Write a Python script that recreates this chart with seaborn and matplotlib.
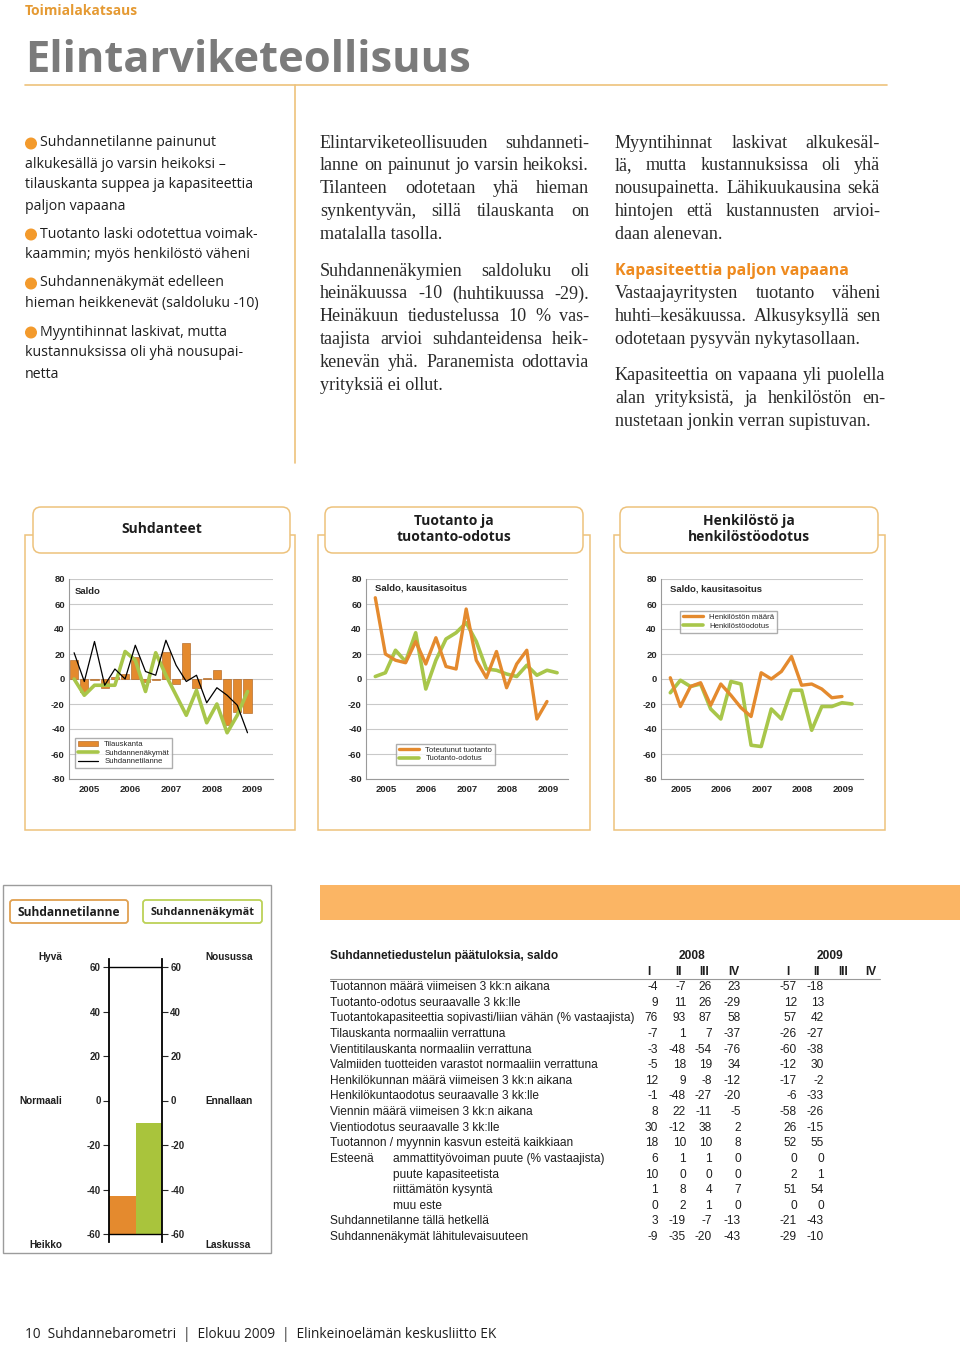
import matplotlib
matplotlib.use("Agg")
import matplotlib.pyplot as plt
from matplotlib.patches import FancyBboxPatch, Rectangle, Circle, Patch
from matplotlib.lines import Line2D
import seaborn as sns
import numpy as np

sns.set_style("white")
plt.rcParams['font.family'] = ['Liberation Sans', 'DejaVu Sans']

# ---------------- data ----------------
years = ["2005", "2006", "2007", "2008", "2009"]

# Chart 1: Suhdanteet (quarterly 2005Q1 - 2009Q2)
tilauskanta = [15, -10, -1, -7, 2, 4, 18, -2, -1, 22, -4, 29, -7, 1, 7, -37, -26, -27]
suhdannenakymat = [0, -13, -5, -5, -5, 22, 15, -10, 21, 3, -13, -29, -9, -35, -20, -43, -29, -10]
suhdannetilanne = [21, -2, 30, -5, 8, 0, 27, 6, 3, 31, 11, -2, 3, -19, -7, -13, -21, -43]

# Chart 2: Tuotanto ja tuotanto-odotus
toteutunut_tuotanto = [65, 20, 15, 13, 30, 12, 33, 10, 8, 56, 15, 1, 22, -7, 12, 23, -32, -18]
tuotanto_odotus = [2, 5, 23, 14, 37, -8, 15, 32, 37, 45, 30, 8, 7, 4, 2, 11, 3, 7, 5]

# Chart 3: Henkilöstö ja henkilöstöodotus
henkiloston_maara = [1, -22, -6, -3, -21, -4, -13, -23, -30, 5, 0, 6, 18, -5, -4, -8, -15, -14]
henkilostoodotus = [-11, -1, -6, -4, -24, -32, -2, -4, -53, -54, -24, -32, -9, -9, -41, -22, -22, -19, -20]

# Thermometer
thermo_labels = ["Suhdannetilanne", "Suhdannenäkymät"]
thermo_values = [-43, -10]

# Table
table_title = "Suhdannetiedustelun päätuloksia, saldo"
table_rows = [
    "Tuotannon määrä viimeisen 3 kk:n aikana",
    "Tuotanto-odotus seuraavalle 3 kk:lle",
    "Tuotantokapasiteettia sopivasti/liian vähän (% vastaajista)",
    "Tilauskanta normaaliin verrattuna",
    "Vientitilauskanta normaaliin verrattuna",
    "Valmiiden tuotteiden varastot normaaliin verrattuna",
    "Henkilökunnan määrä viimeisen 3 kk:n aikana",
    "Henkilökuntaodotus seuraavalle 3 kk:lle",
    "Viennin määrä viimeisen 3 kk:n aikana",
    "Vientiodotus seuraavalle 3 kk:lle",
    "Tuotannon / myynnin kasvun esteitä kaikkiaan",
    "ammattityövoiman puute (% vastaajista)",
    "puute kapasiteetista",
    "riittämätön kysyntä",
    "muu este",
    "Suhdannetilanne tällä hetkellä",
    "Suhdannenäkymät lähitulevaisuuteen",
]
q2008_1 = [-4, 9, 76, -7, -3, -5, 12, -1, 8, 30, 18, 6, 10, 1, 0, 3, -9]
q2008_2 = [-7, 11, 93, 1, -48, 18, 9, -48, 22, -12, 10, 1, 0, 8, 2, -19, -35]
q2008_3 = [26, 26, 87, 7, -54, 19, -8, -27, -11, 38, 10, 1, 0, 4, 1, -7, -20]
q2008_4 = [23, -29, 58, -37, -76, 34, -12, -20, -5, 2, 8, 0, 0, 7, 0, -13, -43]
q2009_1 = [-57, 12, 57, -26, -60, -12, -17, -6, -58, 26, 52, 0, 2, 51, 0, -21, -29]
q2009_2 = [-18, 13, 42, -27, -38, 30, -2, -33, -26, -15, 55, 0, 1, 54, 0, -43, -10]
quarters = ["I", "II", "III", "IV"]

# ---------------- styling ----------------
ORANGE = "#E48A2E"
GREEN = "#A8C64A"
LORANGE = "#EDC27C"
GRAYTXT = "#7B7B7B"
TXT = "#1E1E1E"

W, H = 960, 1347
fig = plt.figure(figsize=(W / 100, H / 100), dpi=100)
bg = fig.add_axes([0, 0, 1, 1])
bg.set_xlim(0, W)
bg.set_ylim(H, 0)
bg.axis("off")
bg.set_zorder(0)
R = fig.canvas.get_renderer()


def px_rect(x0, y0, x1, y1):
    return [x0 / W, 1 - y1 / H, (x1 - x0) / W, (y1 - y0) / H]


def t(x, y, s, **kw):
    kw.setdefault("va", "center")
    kw.setdefault("color", TXT)
    return bg.text(x, y, s, **kw)


def fit(art, width):
    w = art.get_window_extent(R).width
    art.set_fontsize(art.get_fontsize() * width / w)


def justify(x0, x1, y, s, **kw):
    words = s.split(" ")
    arts = [t(0, y, w, **kw) for w in words]
    widths = [a.get_window_extent(R).width for a in arts]
    gap = (x1 - x0 - sum(widths)) / max(len(words) - 1, 1)
    pos = x0
    for a, w in zip(arts, widths):
        a.set_x(pos)
        pos += w + gap


# ---------------- header ----------------
t(25, 11, "Toimialakatsaus", color="#E59A33", fontsize=10, fontweight="bold", family="Open Sans")
ti = t(25, 61, "Elintarviketeollisuus", color=GRAYTXT, fontsize=36, fontweight="bold", family="Open Sans")
fit(ti, 446)
bg.plot([25, 887], [85, 85], color=LORANGE, lw=1.2)
bg.plot([295, 295], [85, 463], color=LORANGE, lw=1.2)

# bullets
bullets = [
    [(40, 143, "Suhdannetilanne painunut"), (25, 164, "alkukesällä jo varsin heikoksi –"),
     (25, 185, "tilauskanta suppea ja kapasiteettia"), (25, 206, "paljon vapaana")],
    [(40, 234, "Tuotanto laski odotettua voimak-"), (25, 255, "kaammin; myös henkilöstö väheni")],
    [(40, 283, "Suhdannenäkymät edelleen"), (25, 304, "hieman heikkenevät (saldoluku -10)")],
    [(40, 332, "Myyntihinnat laskivat, mutta"), (25, 353, "kustannuksissa oli yhä nousupai-"),
     (25, 374, "netta")],
]
for b in bullets:
    bg.add_patch(Circle((31, b[0][1] + 0.5), 5.3, color="#F39A2C", zorder=3))
    for x, y, s in b:
        t(x, y, s, fontsize=10.2, family="Open Sans")

serif = dict(fontsize=13.1, family="Liberation Serif", color="#2A2A2A")
col2 = [
    ["Elintarviketeollisuuden suhdanneti-", "lanne on painunut jo varsin heikoksi.",
     "Tilanteen odotetaan yhä hieman", "synkentyvän, sillä tilauskanta on", "matalalla tasolla."],
    ["Suhdannenäkymien saldoluku oli", "heinäkuussa -10 (huhtikuussa -29).",
     "Heinäkuun tiedustelussa 10 % vas-", "taajista arvioi suhdanteidensa heik-",
     "kenevän yhä. Paranemista odottavia", "yrityksiä ei ollut."],
]
col3a = ["Myyntihinnat laskivat alkukesäl-", "lä, mutta kustannuksissa oli yhä",
         "nousupainetta. Lähikuukausina sekä", "hintojen että kustannusten arvioi-", "daan alenevan."]
col3b = ["Vastaajayritysten tuotanto väheni", "huhti–kesäkuussa. Alkusyksyllä sen",
         "odotetaan pysyvän nykytasollaan."]
col3c = ["Kapasiteettia on vapaana yli puolella", "alan yrityksistä, ja henkilöstön en-",
         "nustetaan jonkin verran supistuvan."]


def para(x0, x1, y0, lines, step=22.9):
    for i, s in enumerate(lines):
        y = y0 + i * step
        if i < len(lines) - 1:
            justify(x0, x1, y, s, **serif)
        else:
            t(x0, y, s, **serif)


para(320, 589, 143, col2[0])
para(320, 589, 271, col2[1])
para(615, 880, 143, col3a)
t(615, 271, "Kapasiteettia paljon vapaana", color="#EE8A1E", fontsize=11.5, fontweight="bold", family="Open Sans")
para(615, 880, 294, col3b)
para(615, 885, 376, col3c)

# ---------------- chart panels ----------------
panels = [(25, 295, 33, 290, "Suhdanteet"),
          (318, 590, 325, 583, "Tuotanto ja\ntuotanto-odotus"),
          (614, 885, 620, 878, "Henkilöstö ja\nhenkilöstöodotus")]
for x0, x1, tx0, tx1, title in panels:
    bg.add_patch(Rectangle((x0, 535), x1 - x0, 830 - 535, fill=False, ec=LORANGE, lw=1.1, zorder=1))
    bg.add_patch(FancyBboxPatch((tx0, 507), tx1 - tx0, 46, boxstyle="round,pad=0,rounding_size=8",
                                fc="white", ec=LORANGE, lw=1.1, zorder=2))
    tt = t((tx0 + tx1) / 2, 529, title, ha="center", fontsize=10, fontweight="bold",
           family="Open Sans", linespacing=1.15, zorder=3)


def base_chart(x0, x1):
    ax = fig.add_axes(px_rect(x0, 579, x1, 779))
    ax.set_zorder(2)
    return ax


def style_chart(ax):
    ax.set_xlim(2005, 2010)
    ax.set_ylim(-80, 80)
    ax.set_yticks(range(-80, 81, 20))
    ax.set_yticklabels([str(v) for v in range(-80, 81, 20)], fontsize=6.8, fontweight="bold")
    ax.set_xticks(range(2005, 2011))
    ax.set_xticklabels([])
    ax.set_xticks([2005.5 + i for i in range(5)], minor=True)
    ax.set_xticklabels(years, minor=True, fontsize=6.8, fontweight="bold")
    ax.tick_params(axis="x", which="minor", length=0, pad=4)
    ax.tick_params(axis="x", which="major", length=4, direction="out", color="#9a9a9a", width=0.8)
    ax.tick_params(axis="y", length=0, pad=3)
    ax.grid(axis="y", color="#c9c9c9", lw=0.8)
    ax.set_axisbelow(True)
    for s in ["top", "right"]:
        ax.spines[s].set_visible(False)
    for s in ["left", "bottom"]:
        ax.spines[s].set_color("#9a9a9a")
        ax.spines[s].set_linewidth(0.8)
    ax.set_xlabel("")
    ax.set_ylabel("")


def qx(n, off):
    return [2005 + (i + off) / 4 for i in range(n)]


leg_kw = dict(fontsize=5.6, frameon=True, fancybox=False, edgecolor="#9a9a9a", borderpad=0.35,
              handlelength=2.6, handleheight=0.7, labelspacing=0.15, borderaxespad=0)

# chart 1
ax1 = base_chart(69, 273)
sns.barplot(x=qx(18, 0.5), y=tilauskanta, native_scale=True, ax=ax1, color=ORANGE, saturation=1,
            width=0.8, edgecolor="#A85A16", linewidth=0.4)
sns.lineplot(x=qx(18, 0.5), y=suhdannenakymat, ax=ax1, color=GREEN, lw=2.6)
sns.lineplot(x=qx(18, 0.5), y=suhdannetilanne, ax=ax1, color="black", lw=0.9)
style_chart(ax1)
ax1.text(0.03, 0.935, "Saldo", transform=ax1.transAxes, fontsize=6.8, fontweight="bold", va="center")
h1 = [Patch(fc=ORANGE, ec="#A85A16", lw=0.4), Line2D([], [], color=GREEN, lw=2.6),
      Line2D([], [], color="black", lw=0.9)]
ax1.legend(h1, ["Tilauskanta", "Suhdannenäkymät", "Suhdannetilanne"], loc="lower left",
           bbox_to_anchor=(0.03, 0.055), **leg_kw)

# chart 2
ax2 = base_chart(366, 568)
sns.lineplot(x=qx(19, 0.92), y=tuotanto_odotus, ax=ax2, color=GREEN, lw=2.6)
sns.lineplot(x=qx(18, 0.92), y=toteutunut_tuotanto, ax=ax2, color=ORANGE, lw=2.4)
style_chart(ax2)
ax2.text(0.045, 0.955, "Saldo, kausitasoitus", transform=ax2.transAxes, fontsize=6.8, fontweight="bold", va="center")
h2 = [Line2D([], [], color=ORANGE, lw=2.4), Line2D([], [], color=GREEN, lw=2.6)]
ax2.legend(h2, ["Toteutunut tuotanto", "Tuotanto-odotus"], loc="lower left",
           bbox_to_anchor=(0.15, 0.07), **leg_kw)

# chart 3
ax3 = base_chart(661, 863)
sns.lineplot(x=qx(19, 0.92), y=henkilostoodotus, ax=ax3, color=GREEN, lw=2.6)
sns.lineplot(x=qx(18, 0.92), y=henkiloston_maara, ax=ax3, color=ORANGE, lw=2.4)
style_chart(ax3)
ax3.text(0.045, 0.95, "Saldo, kausitasoitus", transform=ax3.transAxes, fontsize=6.8, fontweight="bold", va="center")
h3 = [Line2D([], [], color=ORANGE, lw=2.4), Line2D([], [], color=GREEN, lw=2.6)]
ax3.legend(h3, ["Henkilöstön määrä", "Henkilöstöodotus"], loc="upper left",
           bbox_to_anchor=(0.094, 0.84), **leg_kw)

# ---------------- bottom left: thermometer ----------------
bg.add_patch(Rectangle((3, 885), 268, 368, fill=False, ec="#9c9c9c", lw=1.0))
bg.add_patch(FancyBboxPatch((10, 900), 118, 23, boxstyle="round,pad=0,rounding_size=3",
                            fc="white", ec="#E0A050", lw=1.3))
bg.add_patch(FancyBboxPatch((143, 900), 119, 23, boxstyle="round,pad=0,rounding_size=3",
                            fc="white", ec="#BCD157", lw=1.3))
for cx, s in [(69, "Suhdannetilanne"), (202.5, "Suhdannenäkymät")]:
    a = t(cx, 912, s, ha="center", fontsize=9, fontweight="bold", family="Open Sans")
    fit(a, 103)

y60, ym60 = 967, 1234
upp = (ym60 - y60) / 120.0
axt = fig.add_axes(px_rect(109, 959, 162, 1242))
axt.set_zorder(2)
axt.set_xlim(0, 2)
axt.set_ylim(-60 - (1242 - ym60) / upp, 60 + (y60 - 959) / upp)
axt.bar([0.5, 1.5], [v + 60 for v in thermo_values], bottom=-60, width=1.0,
        color=[ORANGE, "#A9C43C"], linewidth=0)
axt.axhline(60, color="black", lw=1.0)
axt.axhline(-60, color="black", lw=1.0)
axt.set_xticks([])
axt.set_yticks(range(-60, 61, 20))
axt.set_yticklabels([str(v) for v in range(-60, 61, 20)], fontsize=7, fontweight="bold")
axt.tick_params(axis="y", left=True, right=True, labelleft=True, labelright=True,
                length=4, width=0.8, direction="out", pad=2)
for s in ["top", "bottom"]:
    axt.spines[s].set_visible(False)
for s in ["left", "right"]:
    axt.spines[s].set_color("black")
    axt.spines[s].set_linewidth(1.3)
axt.set_facecolor("none")

lab = dict(fontsize=7.2, fontweight="bold")
t(62, 957, "Hyvä", ha="right", **lab)
t(62, 1101, "Normaali", ha="right", **lab)
t(62, 1245, "Heikko", ha="right", **lab)
t(205, 957, "Nousussa", ha="left", **lab)
t(205, 1101, "Ennallaan", ha="left", **lab)
t(205, 1245, "Laskussa", ha="left", **lab)

# ---------------- table ----------------
bg.add_patch(Rectangle((320, 885), 640, 35, fc="#FBB564", ec="none"))
tf = dict(fontsize=8.6)
t(330, 956, table_title, fontweight="bold", **tf)
t(692, 956, "2008", ha="center", fontweight="bold", **tf)
t(830, 956, "2009", ha="center", fontweight="bold", **tf)
qpos = [649, 678, 704, 734, 788, 816, 843, 871]
for i, q in enumerate(quarters + quarters):
    t(qpos[i], 972, q, ha="center", fontweight="bold", **tf)
bg.plot([330, 880], [979, 979], color="#9a9a9a", lw=0.8)

cols = [q2008_1, q2008_2, q2008_3, q2008_4, q2009_1, q2009_2]
rights = [658, 686, 712, 741, 797, 824]
for i, lbl in enumerate(table_rows):
    y = 987 + i * 15.63
    if 11 <= i <= 14:
        t(393, y, lbl, **tf)
        if i == 11:
            t(330, y, "Esteenä", **tf)
    else:
        t(330, y, lbl, **tf)
    for c, xr in zip(cols, rights):
        t(xr, y, str(c[i]), ha="right", **tf)

# ---------------- footer ----------------
ft = t(25, 1335, "10  Suhdannebarometri  |  Elokuu 2009  |  Elinkeinoelämän keskusliitto EK",
       fontsize=9.5, family="Open Sans")
fit(ft, 477)

fig.savefig("out.png", dpi=100)
